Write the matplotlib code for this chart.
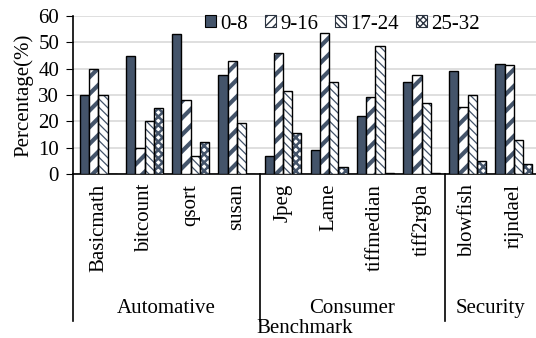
import matplotlib
matplotlib.use("Agg")
import matplotlib.pyplot as plt
import matplotlib.transforms as mtransforms
from matplotlib.patches import Patch
import numpy as np

plt.rcParams["font.family"] = ["Liberation Serif", "DejaVu Serif"]
plt.rcParams["font.size"] = 15

benchmarks = ["Basicmath", "bitcount", "qsort", "susan",
              "Jpeg", "Lame", "tiffmedian", "tiff2rgba",
              "blowfish", "rijndael"]
groups = ["Automative", "Consumer", "Security"]
group_sizes = [4, 4, 2]
series = ["0-8", "9-16", "17-24", "25-32"]

pct_0_8 = [30, 45, 53, 37.5, 7, 9, 22, 35, 39.3, 41.7]
pct_9_16 = [40, 10, 28, 43, 45.8, 53.4, 29.1, 37.6, 25.6, 41.3]
pct_17_24 = [30, 20, 7, 19.2, 31.5, 35, 48.6, 26.8, 30, 12.8]
pct_25_32 = [0, 25, 12, 0, 15.4, 2.5, 0.3, 0.3, 5.1, 3.8]

values = [pct_0_8, pct_9_16, pct_17_24, pct_25_32]
dark = "#44546A"
hatches = [None, "//", "\\\\\\\\", "xxxx"]
hatch_lw = [1.0, 3.0, 0.9, 1.8]
legend_hatches = [None, "////", "\\\\\\\\\\", "xxxxx"]

fig = plt.figure(figsize=(5.36, 3.38), dpi=100)
ax = fig.add_axes([73 / 536, 1 - 174 / 338, 1 - 73 / 536, (174 - 16) / 338])

x = np.arange(len(benchmarks))
width = 0.2
offsets = [-0.3, -0.1, 0.1, 0.3]

for vals, off, h, hlw in zip(values, offsets, hatches, hatch_lw):
    if h is None:
        ax.bar(x + off, vals, width, color=dark, edgecolor="black", linewidth=1.0, zorder=3)
    else:
        with plt.rc_context({"hatch.linewidth": hlw}):
            ax.bar(x + off, vals, width, color="white", edgecolor=dark, hatch=h,
                   linewidth=0, zorder=3)
        ax.bar(x + off, vals, width, facecolor="none", edgecolor="black", linewidth=1.0, zorder=4)

ax.set_ylim(0, 60)
ax.set_yticks(range(0, 61, 10))
ax.set_xlim(-0.55, 9.48)
ax.set_xticks(x)
ax.set_xticklabels(benchmarks, rotation=90, va="top")
ax.tick_params(axis="x", length=0, pad=7)
ax.tick_params(axis="y", length=5, pad=5)
ax.grid(axis="y", color="#d9d9d9", linewidth=1.2, zorder=0)
ax.set_axisbelow(True)
for side in ["top", "right"]:
    ax.spines[side].set_visible(False)
ax.spines["left"].set_linewidth(1.2)
ax.spines["bottom"].set_linewidth(1.2)

ax.set_ylabel("Percentage(%)")
ax.yaxis.set_label_coords(-0.085, 0.5)

# category brackets under the axis
trans = mtransforms.blended_transform_factory(ax.transData, ax.transAxes)
bounds = np.concatenate([[-0.55], np.cumsum(group_sizes)[:-1] - 0.5])
for b in bounds:
    ax.plot([b, b], [0, -0.93], transform=trans, color="black", linewidth=1.2, clip_on=False)
starts = np.concatenate([[0], np.cumsum(group_sizes)[:-1]])
for name, s, n in zip(groups, starts, group_sizes):
    left = -0.55 if s == 0 else s - 0.5
    right = 9.48 if s + n == len(benchmarks) else s + n - 0.5
    ax.text((left + right) / 2, -0.85, name, transform=trans, ha="center", va="center")
ax.text(0.5, -0.98, "Benchmark", transform=ax.transAxes, ha="center", va="center")

handles = [Patch(facecolor=dark, edgecolor="black", linewidth=0.8)]
for h in legend_hatches[1:]:
    with plt.rc_context({"hatch.linewidth": 1.2}):
        handles.append(Patch(facecolor="white", edgecolor="#2a3340", hatch=h, linewidth=0.8))
ax.legend(handles, series, loc="center", bbox_to_anchor=(0.582, 0.949), ncol=4,
          frameon=False, handlelength=0.55, handleheight=0.55, handletextpad=0.2,
          columnspacing=0.8, borderpad=0.2)

fig.savefig("out.png", dpi=100)
